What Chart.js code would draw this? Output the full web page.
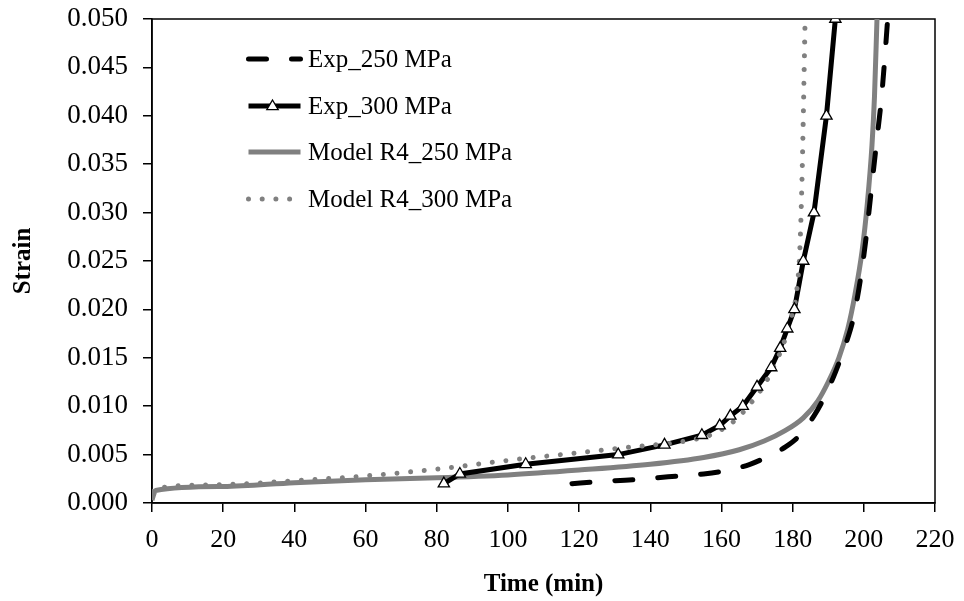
<!DOCTYPE html>
<html>
<head>
<meta charset="utf-8">
<script src="https://cdn.jsdelivr.net/npm/chart.js@4.4.1/dist/chart.umd.min.js"></script>
<style>
  html, body { margin: 0; padding: 0; background: #fff; }
  #wrap { width: 964px; height: 601px; }
</style>
</head>
<body>
<div id="wrap"><canvas id="c" width="964" height="601"></canvas></div>
<script>
// ---- Data ----
const seriesNames = ["Exp_250 MPa", "Exp_300 MPa", "Model R4_250 MPa", "Model R4_300 MPa"];

const exp250Time   = [118, 125, 135, 145, 155, 162, 168, 173, 178, 182, 186, 189, 192, 195, 197, 199, 200.5, 202, 203.5, 205, 206, 206.7];
const exp250Strain = [0.0020, 0.0022, 0.0024, 0.0027, 0.0030, 0.0034, 0.0040, 0.0048, 0.0058, 0.0070, 0.0090, 0.0110, 0.0135, 0.0165, 0.0190, 0.0230, 0.0270, 0.0320, 0.0370, 0.0420, 0.0465, 0.0500];

const exp300Time   = [82, 86.5, 105, 131, 144, 154.5, 159.5, 162.5, 166, 170, 174, 176.5, 178.5, 180.5, 183, 186, 189.5, 192];
const exp300Strain = [0.002, 0.003, 0.004, 0.005, 0.006, 0.007, 0.008, 0.009, 0.010, 0.012, 0.014, 0.016, 0.018, 0.020, 0.025, 0.030, 0.040, 0.050];

const model250Time   = [0, 1, 20, 40, 60, 80, 100, 120, 140, 155, 165, 172, 178, 183, 187, 190, 193, 195.5, 197.5, 199.5, 201, 202.3, 203, 203.7];
const model250Strain = [0.0003, 0.0013, 0.0017, 0.0021, 0.0024, 0.0026, 0.0029, 0.0034, 0.0040, 0.0047, 0.0055, 0.0064, 0.0075, 0.0088, 0.0105, 0.0125, 0.0150, 0.0180, 0.0215, 0.0260, 0.0310, 0.0370, 0.0420, 0.0500];

const model300Time   = [0, 1, 20, 40, 60, 80, 100, 120, 135, 150, 158, 164, 168, 172, 175, 177.5, 179.5, 181, 182, 182.6, 183, 183.5];
const model300Strain = [0.0012, 0.0015, 0.0019, 0.0023, 0.0028, 0.0035, 0.0044, 0.0052, 0.0058, 0.0064, 0.0072, 0.0086, 0.0102, 0.0122, 0.0143, 0.0165, 0.0190, 0.0215, 0.0260, 0.0330, 0.0400, 0.0500];

const xTicks = [0, 20, 40, 60, 80, 100, 120, 140, 160, 180, 200, 220];
const yTicks = [0, 0.005, 0.010, 0.015, 0.020, 0.025, 0.030, 0.035, 0.040, 0.045, 0.050];

const xTitle = "Time (min)";
const yTitle = "Strain";

// ---- helpers ----
const pts = (xs, ys) => xs.map((x, i) => ({ x: x, y: ys[i] }));
const FONT = "'Liberation Serif', 'Times New Roman', serif";
const GRAY = "#808080";

const styles = [
  { color: "#000", width: 5, dash: [18, 25], cap: "round" },
  { color: "#000", width: 5, dash: [], cap: "butt", marker: true },
  { color: GRAY, width: 5, dash: [], cap: "butt" },
  { color: GRAY, width: 5, dash: [0.001, 13.7], cap: "round" }
];

// Legend drawn inside the plot area
const insideLegend = {
  id: "insideLegend",
  afterDraw(chart) {
    const ctx = chart.ctx;
    const ca = chart.chartArea;
    const x0 = ca.left + 96.5, x1 = ca.left + 148.5, tx = ca.left + 156;
    const rows = [59, 106, 152, 199];
    ctx.save();
    seriesNames.forEach((name, i) => {
      const s = styles[i];
      const y = rows[i];
      ctx.beginPath();
      ctx.strokeStyle = s.color;
      ctx.lineWidth = s.width;
      ctx.lineCap = s.cap;
      ctx.setLineDash(s.dash);
      ctx.moveTo(x0, y);
      ctx.lineTo(x1, y);
      ctx.stroke();
      ctx.setLineDash([]);
      if (s.marker) {
        const mx = (x0 + x1) / 2 - 2, r = 6;
        ctx.beginPath();
        ctx.moveTo(mx, y - r);
        ctx.lineTo(mx + r * 0.95, y + r * 0.6);
        ctx.lineTo(mx - r * 0.95, y + r * 0.6);
        ctx.closePath();
        ctx.fillStyle = "#fff";
        ctx.fill();
        ctx.lineWidth = 1.3;
        ctx.strokeStyle = "#000";
        ctx.lineCap = "butt";
        ctx.stroke();
      }
      ctx.fillStyle = "#000";
      ctx.font = "25px " + FONT;
      ctx.textBaseline = "middle";
      ctx.textAlign = "left";
      ctx.fillText(name, tx, y + 1);
    });
    ctx.restore();
  }
};

// Box around plot area
const frame = {
  id: "frame",
  beforeDatasetsDraw(chart) {
    const ctx = chart.ctx, ca = chart.chartArea;
    ctx.save();
    ctx.strokeStyle = "#000";
    ctx.lineWidth = 1.5;
    ctx.strokeRect(ca.left, ca.top, ca.right - ca.left, ca.bottom - ca.top);
    ctx.restore();
  }
};

new Chart(document.getElementById("c"), {
  type: "line",
  data: {
    datasets: [
      {
        label: seriesNames[0], data: pts(exp250Time, exp250Strain),
        borderColor: "#000", borderWidth: 5, borderDash: [18, 25], borderCapStyle: "round",
        pointRadius: 0, cubicInterpolationMode: "monotone", order: 3
      },
      {
        label: seriesNames[1], data: pts(exp300Time, exp300Strain),
        borderColor: "#000", borderWidth: 5, pointRadius: 0,
        tension: 0, order: 2
      },
      {
        label: seriesNames[2], data: pts(model250Time, model250Strain),
        borderColor: GRAY, borderWidth: 5, pointRadius: 0,
        cubicInterpolationMode: "monotone", order: 4
      },
      {
        label: seriesNames[3], data: pts(model300Time, model300Strain),
        borderColor: GRAY, borderWidth: 5, borderDash: [0.001, 13.7], borderCapStyle: "round",
        pointRadius: 0, cubicInterpolationMode: "monotone", order: 1
      },
      {
        label: seriesNames[1] + " markers", data: pts(exp300Time, exp300Strain),
        showLine: false, pointStyle: "triangle", pointRadius: 6.5,
        pointBackgroundColor: "#fff", pointBorderColor: "#000", pointBorderWidth: 1.3,
        order: 0
      }
    ]
  },
  options: {
    responsive: false,
    animation: false,
    events: [],
    layout: { padding: { top: 19, right: 29, left: 0, bottom: 0 } },
    plugins: { legend: { display: false }, tooltip: { enabled: false } },
    scales: {
      x: {
        type: "linear", min: 0, max: 220,
        afterBuildTicks: (s) => { s.ticks = xTicks.map(v => ({ value: v })); },
        afterFit: (s) => { s.height = 98; s.paddingLeft = 0; s.paddingRight = 0; },
        grid: { drawOnChartArea: false, drawTicks: true, tickLength: 9, color: "#000", lineWidth: 1.5 },
        border: { display: true, color: "#000", width: 1.5 },
        ticks: { color: "#000", font: { family: FONT, size: 26 }, padding: 13, maxRotation: 0 },
        title: { display: true, text: xTitle, color: "#000", font: { family: FONT, size: 25, weight: "bold" }, padding: { top: 0, bottom: 1 } }
      },
      y: {
        type: "linear", min: 0, max: 0.05,
        afterBuildTicks: (s) => { s.ticks = yTicks.map(v => ({ value: v })); },
        afterFit: (s) => { s.width = 152; s.paddingTop = 0; s.paddingBottom = 0; },
        grid: { drawOnChartArea: false, drawTicks: true, tickLength: 9, color: "#000", lineWidth: 1.5 },
        border: { display: true, color: "#000", width: 1.5 },
        ticks: { color: "#000", font: { family: FONT, size: 27 }, padding: 15, callback: (v) => Number(v).toFixed(3) },
        title: { display: true, text: yTitle, color: "#000", font: { family: FONT, size: 25, weight: "bold" }, padding: { top: 9, bottom: 0 } }
      }
    }
  },
  plugins: [frame, insideLegend]
});
</script>
</body>
</html>
